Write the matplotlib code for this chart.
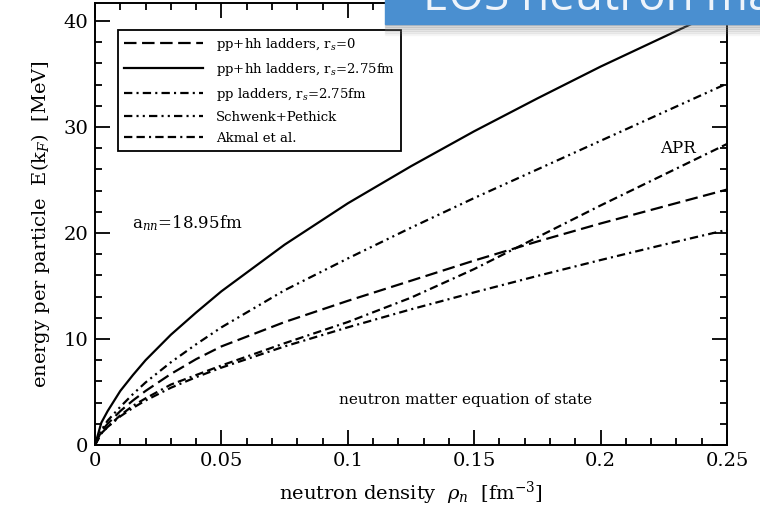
import numpy as np
import matplotlib
matplotlib.use('Agg')
import matplotlib.pyplot as plt
from matplotlib.patches import Rectangle
from matplotlib.ticker import MultipleLocator, FuncFormatter

plt.rcParams['font.family'] = ['DejaVu Serif']
plt.rcParams['mathtext.fontset'] = 'dejavuserif'
plt.rcParams['lines.scale_dashes'] = False

# density grid [fm^-3] and energies per particle [MeV]
rho = [0.0, 0.0025, 0.005, 0.01, 0.015, 0.02, 0.03, 0.04, 0.05, 0.075, 0.1,
       0.125, 0.15, 0.175, 0.2, 0.225, 0.25]
E_rs0 = [0.0, 1.3, 2.0, 3.2, 4.2, 5.1, 6.7, 8.1, 9.3, 11.6, 13.6,
         15.5, 17.4, 19.2, 20.9, 22.5, 24.1]
E_rs275 = [0.0, 2.1, 3.2, 5.1, 6.6, 8.0, 10.4, 12.5, 14.5, 18.9, 22.8,
           26.3, 29.6, 32.7, 35.7, 38.5, 41.3]
E_pp = [0.0, 1.1, 1.7, 2.7, 3.5, 4.2, 5.4, 6.4, 7.3, 9.3, 11.1,
        12.8, 14.4, 15.95, 17.45, 18.9, 20.3]
E_schwenk = [0.0, 1.4, 2.3, 3.6, 4.8, 5.9, 7.8, 9.5, 11.1, 14.6, 17.6,
             20.5, 23.3, 26.0, 28.7, 31.4, 34.1]
E_apr = [0.0, 1.1, 1.7, 2.8, 3.7, 4.4, 5.7, 6.6, 7.5, 9.6, 11.6,
         13.9, 16.6, 19.6, 22.6, 25.5, 28.4]

labels = ['pp+hh ladders, r$_s$=0', 'pp+hh ladders, r$_s$=2.75fm',
          'pp ladders, r$_s$=2.75fm', 'Schwenk+Pethick', 'Akmal et al.']

fig = plt.figure(figsize=(7.6, 5.16), dpi=100)
ax = fig.add_axes([95/760, 71/516, 632/760, 442/516])

lw = 1.6
ax.plot(rho, E_rs0, color='k', lw=lw, ls=(0, (9, 4)), label=labels[0])
ax.plot(rho, E_rs275, color='k', lw=lw, ls='-', label=labels[1])
ax.plot(rho, E_pp, color='k', lw=lw, ls=(0, (6, 3, 1.5, 3)), label=labels[2])
ax.plot(rho, E_schwenk, color='k', lw=lw, ls=(0, (6, 3, 1.5, 3, 1.5, 3)), label=labels[3])
ax.plot(rho, E_apr, color='k', lw=lw, ls=(0, (6, 3, 6, 3, 1.5, 3)), label=labels[4])

ax.set_xlim(0, 0.25)
ax.set_ylim(0, 41.7)
ax.xaxis.set_major_locator(MultipleLocator(0.05))
ax.xaxis.set_minor_locator(MultipleLocator(0.01))
ax.yaxis.set_major_locator(MultipleLocator(10))
ax.yaxis.set_minor_locator(MultipleLocator(2))
ax.xaxis.set_major_formatter(FuncFormatter(lambda v, p: '%g' % round(v, 3)))
ax.tick_params(which='both', direction='in', top=True, right=True, width=1.3)
ax.tick_params(which='major', length=11, labelsize=14, pad=5)
ax.tick_params(which='minor', length=5)
for s in ax.spines.values():
    s.set_linewidth(1.4)

ax.set_xlabel('neutron density  $\\rho_n$  [fm$^{-3}$]', fontsize=14, labelpad=7)
ax.set_ylabel('energy per particle  E(k$_F$)  [MeV]', fontsize=14, labelpad=8)

ax.text(0.0147, 20.9, 'a$_{nn}$=18.95fm', fontsize=12, va='center')
ax.text(0.2234, 28.0, 'APR', fontsize=12, va='center')
ax.text(0.0964, 4.2, 'neutron matter equation of state', fontsize=11, va='center')

leg = ax.legend(loc='upper left', bbox_to_anchor=(0.0364, 0.939), borderaxespad=0,
                fontsize=9.5, handlelength=6.0, handletextpad=0.95, labelspacing=0.6,
                fancybox=False, framealpha=1, edgecolor='k', borderpad=0.45)
leg.get_frame().set_linewidth(1.3)

# blue title banner at the top right, cut off by the upper edge
for i in range(6):
    fig.patches.append(Rectangle((385/760, 1 - (25 + 2*i)/516), 375/760, 2/516,
                                 transform=fig.transFigure, color='#888888',
                                 alpha=0.25 - 0.04*i, zorder=9))
fig.patches.append(Rectangle((385/760, 1 - 24/516), 375/760, 24/516,
                             transform=fig.transFigure, color='#4a8fd0', zorder=10))
fig.text(423/760, 1 - 10/516, 'EOS neutron matter', color='#eef4fb', fontsize=33,
         family='Open Sans', va='baseline', zorder=11)

fig.savefig('out.png', dpi=100)
